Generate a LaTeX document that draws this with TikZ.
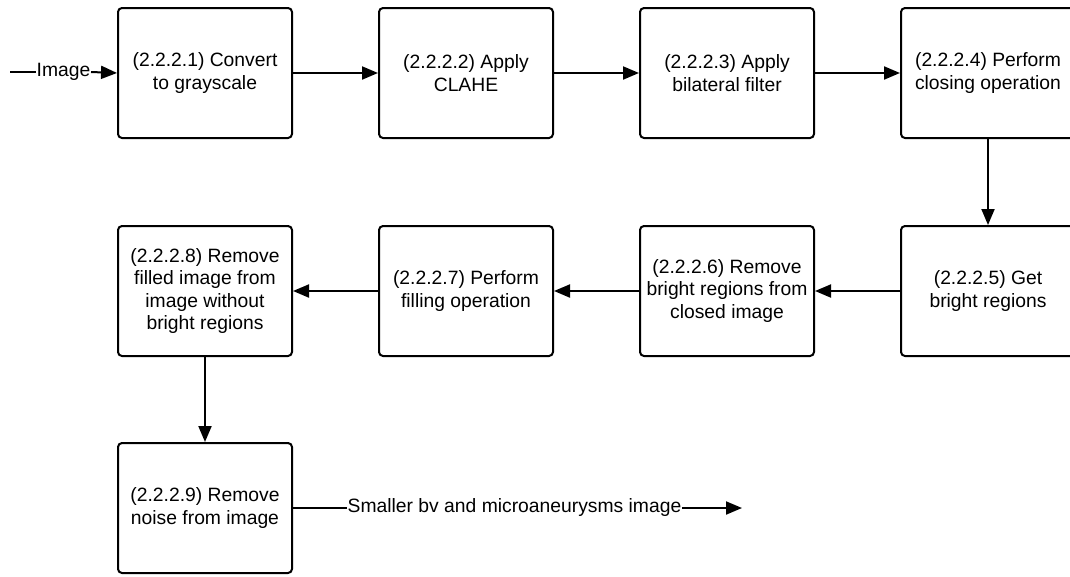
\documentclass[tikz,border=0pt]{standalone}
\usepackage{fontspec}
\setmainfont{Liberation Sans}
\usetikzlibrary{arrows.meta}
\begin{document}
\begin{tikzpicture}[x=1pt,y=-1pt,
  stepbox/.style={draw=black, line width=2pt, rounded corners=4pt, fill=white,
    minimum width=174pt, minimum height=130pt, align=center, inner sep=2pt,
    font=\fontsize{19.3}{22.6}\selectfont},
  lbl/.style={inner sep=0.5pt, font=\fontsize{19.3}{22.6}\selectfont},
  conn/.style={line width=2pt, -{Triangle[length=16pt,width=13pt]}},
  plain/.style={line width=2pt}]
\useasboundingbox[fill=white] (0,0) rectangle (1070,576);
\node[stepbox] (b1) at (205,73) {(2.2.2.1) Convert\\to grayscale};
\node[stepbox] (b2) at (466,73) {(2.2.2.2) Apply\\CLAHE};
\node[stepbox] (b3) at (727,73) {(2.2.2.3) Apply\\bilateral filter};
\node[stepbox] (b4) at (988,73) {(2.2.2.4) Perform\\closing operation};
\node[stepbox] (b5) at (988,291) {(2.2.2.5) Get\\bright regions};
\node[stepbox] (b6) at (727,291) {(2.2.2.6) Remove\\bright regions from\\closed image};
\node[stepbox] (b7) at (466,291) {(2.2.2.7) Perform\\filling operation};
\node[stepbox] (b8) at (205,291) {(2.2.2.8) Remove\\filled image from\\image without\\bright regions};
\node[stepbox] (b9) at (205,508) {(2.2.2.9) Remove\\noise from image};
\coordinate (in) at (10,72);
\node[lbl] (img) at (63.5,72) {Image};
\coordinate (out) at (742,508);
\node[lbl] (res) at (514.5,508) {Smaller bv and microaneurysms image};
\draw[plain] (in) -- (img.west);
\draw[conn] (img.east) -- (b1.west);
\draw[conn] (b1) -- (b2);
\draw[conn] (b2) -- (b3);
\draw[conn] (b3) -- (b4);
\draw[conn] (b4) -- (b5);
\draw[conn] (b5) -- (b6);
\draw[conn] (b6) -- (b7);
\draw[conn] (b7) -- (b8);
\draw[conn] (b8) -- (b9);
\draw[plain] (b9.east) -- (res.west);
\draw[conn] (res.east) -- (out);
\end{tikzpicture}
\end{document}
